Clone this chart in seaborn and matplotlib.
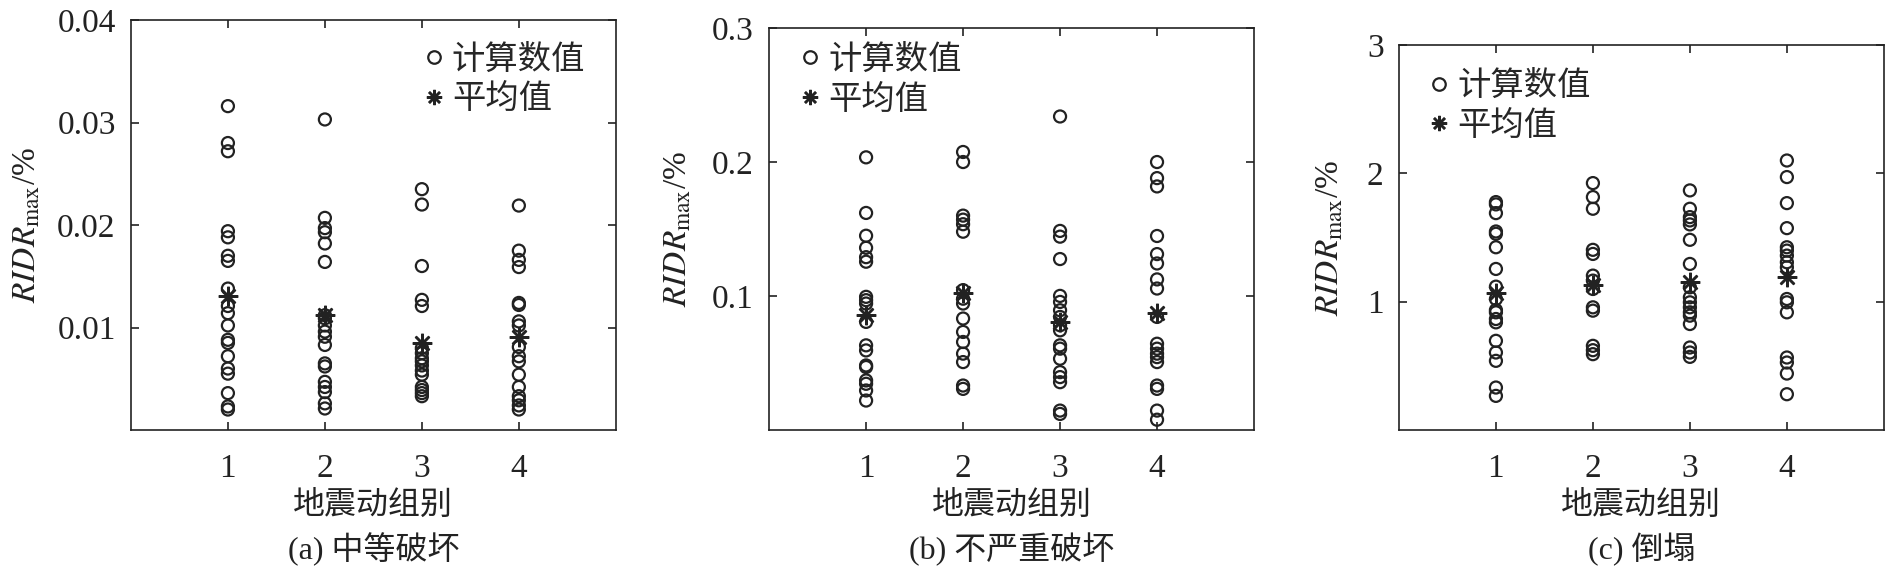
import numpy as np
import pandas as pd
import matplotlib
matplotlib.use('Agg')
import matplotlib.pyplot as plt
from matplotlib.lines import Line2D
import seaborn as sns

# values (RIDR_max in %), one list per ground-motion group
a_g1 = [0.0316, 0.0280, 0.0272, 0.0194, 0.0188, 0.0170, 0.0165, 0.0138, 0.0121, 0.0114,
        0.0102, 0.0088, 0.0085, 0.0072, 0.0060, 0.0055, 0.0036, 0.0023, 0.0020]
a_g2 = [0.0303, 0.0207, 0.0197, 0.0193, 0.0182, 0.0164, 0.0112, 0.0109, 0.0102, 0.0096,
        0.0091, 0.0083, 0.0065, 0.0062, 0.0047, 0.0042, 0.0037, 0.0026, 0.0021]
a_g3 = [0.0235, 0.0220, 0.0160, 0.0127, 0.0121, 0.0080, 0.0075, 0.0070, 0.0067, 0.0063,
        0.0058, 0.0054, 0.0042, 0.0039, 0.0036, 0.0033]
a_g4 = [0.0219, 0.0175, 0.0166, 0.0159, 0.0124, 0.0122, 0.0106, 0.0102, 0.0081, 0.0072,
        0.0067, 0.0054, 0.0042, 0.0033, 0.0029, 0.0024, 0.0020]
a_mean = [0.0131, 0.0112, 0.0085, 0.0091]

b_g1 = [0.2035, 0.162, 0.145, 0.136, 0.129, 0.1256, 0.0994, 0.0969, 0.0944, 0.0807,
        0.0632, 0.0594, 0.0482, 0.047, 0.037, 0.0345, 0.0295, 0.022]
b_g2 = [0.2075, 0.200, 0.160, 0.157, 0.1536, 0.148, 0.1044, 0.098, 0.0944, 0.0832,
        0.0732, 0.0657, 0.057, 0.0507, 0.0332, 0.0307]
b_g3 = [0.234, 0.1486, 0.1443, 0.1276, 0.1001, 0.0956, 0.0894, 0.0844, 0.0782, 0.0744,
        0.0632, 0.0607, 0.0532, 0.0432, 0.0395, 0.0357, 0.0145, 0.012]
b_g4 = [0.200, 0.188, 0.1818, 0.1448, 0.1313, 0.1243, 0.1124, 0.1056, 0.0844, 0.0644,
        0.0607, 0.057, 0.0544, 0.0507, 0.0332, 0.0307, 0.0145, 0.0077]
b_mean = [0.0856, 0.102, 0.0806, 0.0876]

c_g1 = [1.776, 1.758, 1.69, 1.547, 1.529, 1.424, 1.255, 1.117, 1.021, 0.935,
        0.917, 0.865, 0.839, 0.695, 0.604, 0.539, 0.331, 0.266]
c_g2 = [1.924, 1.815, 1.724, 1.404, 1.372, 1.203, 1.164, 1.099, 0.956, 0.93,
        0.656, 0.622, 0.591]
c_g3 = [1.867, 1.724, 1.659, 1.633, 1.602, 1.482, 1.294, 1.112, 1.034, 0.995,
        0.956, 0.917, 0.891, 0.826, 0.643, 0.604, 0.57]
c_g4 = [2.10, 1.971, 1.768, 1.573, 1.424, 1.398, 1.359, 1.307, 1.268, 1.021,
        0.995, 0.917, 0.565, 0.526, 0.44, 0.279]
c_mean = [1.065, 1.13, 1.15, 1.19]

groups = [1, 2, 3, 4]
captions = ['(a) 中等破坏', '(b) 不严重破坏', '(c) 倒塌']
ytick_vals = [[0.01, 0.02, 0.03, 0.04], [0.1, 0.2, 0.3], [1, 2, 3]]
ytick_labels = [['0.01', '0.02', '0.03', '0.04'], ['0.1', '0.2', '0.3'], ['1', '2', '3']]
ymax = [0.04, 0.3, 3]

panels = [([a_g1, a_g2, a_g3, a_g4], a_mean),
          ([b_g1, b_g2, b_g3, b_g4], b_mean),
          ([c_g1, c_g2, c_g3, c_g4], c_mean)]

sns.set_style('ticks')
plt.rcParams['font.family'] = ['Liberation Serif', 'Noto Sans CJK SC']
plt.rcParams['mathtext.fontset'] = 'stix'
plt.rcParams['axes.linewidth'] = 1.2

fig = plt.figure(figsize=(18.92, 5.71), dpi=100)
# axes boxes in figure fractions
boxes = [[0.0692, 0.2469, 0.2563, 0.718],
         [0.4065, 0.2469, 0.2563, 0.704],
         [0.7394, 0.2469, 0.2563, 0.6743]]
leg_anchor = [(0.60, 0.94), (0.06, 0.958), (0.058, 0.932)]
ylab_x = [-0.183, -0.155, -0.111]

asterisk = (8, 2, 0)

for i, (vals, means) in enumerate(panels):
    ax = fig.add_axes(boxes[i])
    df = pd.DataFrame({'group': np.concatenate([[g] * len(v) for g, v in zip(groups, vals)]),
                       'ridr': np.concatenate(vals)})
    sns.scatterplot(data=df, x='group', y='ridr', ax=ax, marker='o', s=75,
                    facecolors='none', edgecolor='#222222', linewidth=1.6, legend=False)
    dm = pd.DataFrame({'group': groups, 'ridr': means})
    ax.plot(dm['group'], dm['ridr'], linestyle='none', marker=asterisk,
            markersize=14, markeredgewidth=1.8, color='#222222')

    ax.set_xlim(0, 5)
    ax.set_ylim(0, ymax[i])
    ax.set_xticks(groups)
    ax.set_xticklabels([str(g) for g in groups])
    ax.set_yticks(ytick_vals[i])
    ax.set_yticklabels(ytick_labels[i])
    ax.tick_params(direction='in', top=True, right=True, length=6, width=1.2,
                   labelsize=24, colors='#222222')
    ax.tick_params(axis='x', pad=17)
    ax.tick_params(axis='y', pad=11)
    for sp in ax.spines.values():
        sp.set_color('#222222')

    ax.set_xlabel('地震动组别', fontsize=23, labelpad=5, color='#222222')
    ax.set_ylabel(r'$\mathit{RIDR}_{\mathrm{max}}$/%', fontsize=24, color='#222222')
    ax.yaxis.set_label_coords(ylab_x[i], 0.5)

    handles = [Line2D([], [], linestyle='none', marker='o', markersize=9,
                      markerfacecolor='none', markeredgecolor='#222222', markeredgewidth=1.6),
               Line2D([], [], linestyle='none', marker=asterisk, markersize=11,
                      markeredgewidth=1.8, color='#222222')]
    ax.legend(handles, ['计算数值', '平均值'], loc='upper left', bbox_to_anchor=leg_anchor[i],
              frameon=False, fontsize=24, handlelength=0.7, handletextpad=0.2,
              borderpad=0, borderaxespad=0, labelspacing=0.25)

    x_mid = boxes[i][0] + boxes[i][2] / 2
    fig.text(x_mid, 0.038, captions[i], ha='center', va='center', fontsize=23, color='#222222')

plt.savefig('out.png', dpi=100)
